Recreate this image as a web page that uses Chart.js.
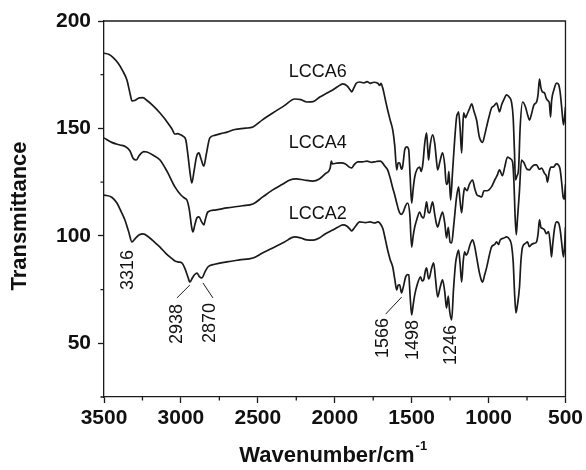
<!DOCTYPE html>
<html><head><meta charset="utf-8">
<script src="https://cdn.jsdelivr.net/npm/chart.js@4.4.1/dist/chart.umd.min.js"></script>
<style>html,body{margin:0;padding:0;background:#fff;}#wrap{width:586px;height:470px;}</style>
</head><body><div id="wrap"><canvas id="c" width="586" height="470"></canvas></div>
<script>
// ---- data ----
const seriesNames = ['LCCA6', 'LCCA4', 'LCCA2'];

const lcca6Wn = [3500,3470,3440,3409,3380,3351,3330,3318,3300,3270,3247,3220,3180,3136,3100,3060,3039,3020,3006,2985,2968,2955,2940,2929,2915,2898,2883,2870,2851,2835,2812,2780,2740,2701,2650,2580,2532,2470,2403,2330,2260,2220,2182,2140,2097,2050,2013,1980,1948,1920,1900,1890,1875,1860,1838,1810,1790,1770,1745,1720,1708,1700,1688,1670,1656,1640,1623,1610,1597,1588,1578,1566,1558,1545,1532,1519,1510,1500,1490,1480,1465,1448,1438,1428,1415,1403,1395,1390,1380,1364,1350,1340,1331,1315,1299,1285,1275,1266,1258,1247,1234,1220,1208,1200,1195,1185,1175,1168,1162,1150,1143,1125,1110,1095,1078,1060,1045,1039,1025,1013,995,981,965,948,935,929,915,900,883,865,851,840,832,825,815,805,795,779,760,745,734,720,705,688,678,669,660,650,636,625,615,605,597,590,575,558,545,535,525,513,505,500];
const lcca6T  = [185,184.5,183,180.4,177,172.5,166,162.8,163,164.2,164.3,163,160.5,157.2,154,150,147.4,147.6,147.2,146.3,144.6,138,129,124.6,130,137,138.6,136,132.5,138,145.6,146.8,147.6,148.3,149.5,150.1,150.7,154,157.2,160.5,163.7,163.4,162.3,162.5,164.6,166.5,167.9,169.5,170.7,169.8,168,167,169,171,171.6,171.2,171.8,171,171.5,171,170,171,168.8,163,158.6,154,149.3,142,130.7,134,133.9,131,132.5,140,141.4,140,128,115.3,122,127.4,131,132,130,133,143,147.9,140,135.3,142,147,143,136,130.7,135,138.6,133,124,124.6,130,116.7,130,145,155.3,157,157.7,150,138.6,150,157.2,155,156,159,161.4,158,153.9,146,143.7,143.5,147,150.7,156,159.5,160.5,161.8,159,157.7,161,163.5,165.6,164.5,162.3,155,140,126,128,131,150,162.3,160,156,153.9,157,161,162.3,166,173,169,167,166.5,164,163,162,155.3,163,168,171.1,170.5,167,160,151.6,156,160];

const lcca4Wn = [3500,3450,3396,3360,3331,3310,3290,3270,3240,3221,3180,3136,3090,3039,3000,2975,2961,2945,2930,2922,2910,2895,2883,2865,2851,2840,2825,2780,2701,2600,2532,2470,2403,2340,2292,2250,2200,2143,2100,2060,2030,2022,2015,1990,1960,1930,1905,1890,1875,1851,1820,1790,1760,1730,1705,1695,1675,1656,1640,1623,1610,1597,1585,1578,1566,1555,1540,1526,1512,1500,1490,1480,1465,1448,1435,1422,1410,1403,1392,1383,1372,1364,1350,1340,1331,1315,1299,1285,1273,1262,1250,1240,1225,1208,1195,1185,1175,1165,1156,1140,1125,1104,1090,1075,1060,1045,1030,1010,981,960,945,929,910,895,877,860,844,835,828,820,812,800,786,770,750,734,720,700,688,670,655,636,625,617,605,595,578,560,546,535,525,515,508,500];
const lcca4T  = [145.6,143.5,142.3,141.5,139.5,136,135.3,137.5,139.2,139,137.5,135.3,130,122.8,119,117.5,116.7,112,104,101.8,105,108.5,108.8,106.5,105.1,108,111.1,112,113,114,114.8,118,121.4,124,126,126.5,126,125.5,126.5,129,131.5,134.8,133.5,133.8,134,133.5,132,131.6,133,134.4,134.4,134.8,134.2,134.6,134.8,134.4,132.5,130.7,127,122.3,119,115.3,112,110.7,110,111,114,115.3,110,94.8,100,104.1,108,111.1,109,108.3,113,115.8,111,110.7,114,115.8,110,106,104.1,108,111.1,106,99,104,97,96.7,106,118.1,122.8,116,110.7,118,122.3,121,124,126,122,119,118.5,118.1,121,121,122.8,126,128,130.7,128,132,136.7,136,134.4,125,110,100.5,108,120,135.3,134,131,130.7,132,133,133,131,131.5,129,128,125,130,132,132,133.5,133,131,125,118,117,124];

const lcca2Wn = [3500,3450,3416,3390,3364,3340,3318,3300,3270,3247,3210,3170,3136,3100,3060,3039,3015,2994,2975,2955,2942,2925,2910,2896,2880,2864,2845,2825,2780,2701,2620,2532,2470,2403,2330,2260,2220,2182,2140,2100,2060,2013,1980,1948,1920,1900,1890,1870,1838,1800,1770,1740,1720,1708,1688,1670,1656,1640,1623,1610,1597,1588,1578,1566,1555,1539,1527,1519,1510,1500,1490,1480,1465,1442,1432,1422,1410,1403,1390,1383,1370,1357,1345,1331,1315,1299,1285,1273,1262,1253,1240,1228,1215,1208,1195,1185,1175,1165,1156,1145,1136,1120,1104,1090,1078,1060,1045,1039,1025,1013,995,981,960,948,935,925,900,883,865,851,840,830,822,812,799,790,779,760,747,735,721,705,688,678,669,660,650,636,625,610,597,591,583,570,558,545,535,525,513,505,500];
const lcca2T  = [119,118,115.3,111.5,107.4,102,97.2,98.5,100.5,100.9,99.5,97,94.8,92,89.5,88.3,87.8,87.4,85,81,78.5,80.5,82,82.7,81,80.4,83,85.5,86.8,87.9,88.8,89.7,92,94.4,97,99.5,99,98.1,98,99,101,102.7,104,105.1,104.5,103,102.3,104,106.5,106.2,106.5,106,106.5,106,103.5,98,93.4,89,85.5,80,74.8,77,77.2,73.4,76,80.9,82,81.8,72,63.2,68,72.5,77,80.9,79,79.5,84,85.1,80,80.9,85,87.4,80,71.6,76,79.5,74,66.4,72,65,60.9,75,87,90.2,93.4,87,78.5,88,92.5,91,92,96,98.1,95,90.2,83,79,78.5,82,85.1,91,94.8,96,97.2,96,98,99,99.5,98.5,95.8,88,72,64.1,68,76.2,88,94.8,96.5,97.2,95,96,96.5,97.2,101,107.4,104,103.5,102.7,101,102,95,90.2,96,104,106.5,106,103,97,90.2,96,104];

const peakLabels = ['3316', '2938', '2870', '1566', '1498', '1246'];

// ---- placement of text in data units (not data) ----
const seriesLabelPos = [{wn: 2299, t: 176.3}, {wn: 2299, t: 143.2}, {wn: 2299, t: 110.2}];
const peakLabelPos = [
  {wn: 3344, top: 93.4},
  {wn: 3026, top: 68.3, lead: [3026, 71.1, 2942, 77.1]},
  {wn: 2812, top: 68.8, lead: [2857, 78.1, 2792, 71.1]},
  {wn: 1688, top: 61.8, lead: [1669, 63.6, 1565, 71.5]},
  {wn: 1494, top: 60.8},
  {wn: 1247, top: 58.5}
];

const FONT = "'Liberation Sans', Arial, Helvetica, sans-serif";
const INK = '#1a1a1a';
Chart.defaults.font.family = FONT;
Chart.defaults.color = '#111';

function pts(wn, t) { return wn.map((w, i) => ({x: w, y: t[i]})); }
const seriesData = [pts(lcca6Wn, lcca6T), pts(lcca4Wn, lcca4T), pts(lcca2Wn, lcca2T)];

const overlay = {
  id: 'overlay',
  afterDraw(chart) {
    const {ctx, chartArea: a, scales: {x, y}} = chart;
    ctx.save();
    ctx.strokeStyle = INK; ctx.lineWidth = 1.3;
    ctx.beginPath();
    ctx.moveTo(a.left, a.top); ctx.lineTo(a.right, a.top); ctx.lineTo(a.right, a.bottom);
    ctx.stroke();
    // minor ticks
    ctx.beginPath();
    x.ticks.forEach(t => { if (t.value % 500 !== 0) { const px = x.getPixelForValue(t.value); ctx.moveTo(px, a.bottom); ctx.lineTo(px, a.bottom + 3.5); } });
    y.ticks.forEach(t => { if (t.value % 50 !== 0) { const py = y.getPixelForValue(t.value); ctx.moveTo(a.left, py); ctx.lineTo(a.left - 3.5, py); } });
    ctx.stroke();
    // series labels
    ctx.fillStyle = '#111';
    ctx.font = `18px ${FONT}`;
    ctx.textAlign = 'left'; ctx.textBaseline = 'middle';
    seriesNames.forEach((n, i) => ctx.fillText(n, x.getPixelForValue(seriesLabelPos[i].wn), y.getPixelForValue(seriesLabelPos[i].t)));
    // peak labels
    peakLabels.forEach((txt, i) => {
      const p = peakLabelPos[i];
      ctx.save();
      ctx.translate(x.getPixelForValue(p.wn), y.getPixelForValue(p.top));
      ctx.rotate(-Math.PI / 2);
      ctx.textAlign = 'right'; ctx.textBaseline = 'middle';
      ctx.fillText(txt, 0, 0);
      ctx.restore();
      if (p.lead) {
        ctx.lineWidth = 1;
        ctx.beginPath();
        ctx.moveTo(x.getPixelForValue(p.lead[0]), y.getPixelForValue(p.lead[1]));
        ctx.lineTo(x.getPixelForValue(p.lead[2]), y.getPixelForValue(p.lead[3]));
        ctx.stroke();
      }
    });
    // axis titles
    ctx.font = `bold 22px ${FONT}`;
    ctx.save();
    ctx.translate(20, (a.top + a.bottom) / 2 + 7);
    ctx.rotate(-Math.PI / 2);
    ctx.textAlign = 'center'; ctx.textBaseline = 'middle';
    ctx.fillText('Transmittance', 0, 0);
    ctx.restore();
    const main = 'Wavenumber/cm', sup = '-1';
    const w1 = ctx.measureText(main).width;
    ctx.font = `bold 13px ${FONT}`;
    const w2 = ctx.measureText(sup).width;
    const sx = (a.left + a.right) / 2 - 2 - (w1 + w2) / 2;
    ctx.textAlign = 'left'; ctx.textBaseline = 'alphabetic';
    ctx.font = `bold 22px ${FONT}`;
    ctx.fillText(main, sx, 462);
    ctx.font = `bold 13px ${FONT}`;
    ctx.fillText(sup, sx + w1 + 1, 450);
    ctx.restore();
  }
};

new Chart(document.getElementById('c'), {
  type: 'line',
  data: {
    datasets: seriesNames.map((n, i) => ({
      label: n, data: seriesData[i],
      borderColor: INK, borderWidth: 1.7, pointRadius: 0,
      cubicInterpolationMode: 'monotone', fill: false
    }))
  },
  options: {
    responsive: false, animation: false, events: [],
    layout: {padding: {top: 21, right: 20, left: 0, bottom: 0}},
    plugins: {legend: {display: false}, tooltip: {enabled: false}},
    scales: {
      x: {
        type: 'linear', reverse: true, min: 500, max: 3500,
        afterFit(s) { s.height = 73; },
        border: {color: INK, width: 1.3},
        grid: {drawOnChartArea: false, drawTicks: true, tickLength: 6, tickWidth: 1.3,
               tickColor: c => (c.tick && c.tick.value % 500 === 0) ? INK : 'rgba(0,0,0,0)'},
        ticks: {stepSize: 250, autoSkip: false, maxRotation: 0, padding: 3, color: '#111',
                font: {size: 21, weight: 'bold'},
                callback: v => (v % 500 === 0 ? String(v) : '')}
      },
      y: {
        type: 'linear', min: 25, max: 200,
        afterFit(s) { s.width = 104; },
        border: {color: INK, width: 1.3},
        grid: {drawOnChartArea: false, drawTicks: true, tickLength: 6, tickWidth: 1.3,
               tickColor: c => (c.tick && c.tick.value % 50 === 0) ? INK : 'rgba(0,0,0,0)'},
        ticks: {stepSize: 25, autoSkip: false, padding: 7, color: '#111',
                font: {size: 21, weight: 'bold'},
                callback: v => (v % 50 === 0 ? String(v) : '')}
      }
    }
  },
  plugins: [overlay]
});
</script></body></html>
